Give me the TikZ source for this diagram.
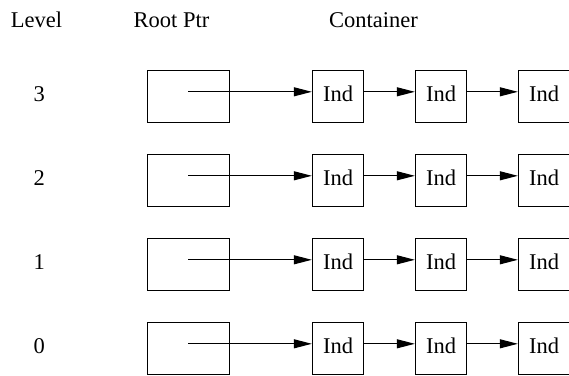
\documentclass[tikz,border=0pt]{standalone}
\usepackage{fontspec}
\setmainfont{Liberation Serif}
\newfontfamily\timesfont{Liberation Serif}
\usepackage{tikz}
\usetikzlibrary{arrows.meta}
\usetikzlibrary{positioning}

\begin{document}
\begin{tikzpicture}[x=1pt,y=1pt]
		\tikzstyle{rootblock} = [rectangle, draw, line width=1pt, minimum width=82.5pt, minimum height=52.4pt]
		\tikzstyle{indblock} = [rectangle, draw, line width=1pt, minimum width=51.4pt, minimum height=52.4pt,
		font=\timesfont\fontsize{22.5}{27}\selectfont, text depth=5pt, inner sep=0pt]
		\tikzstyle{lvl} = [font=\timesfont\fontsize{22.5}{27}\selectfont, text depth=5pt, inner sep=0pt]
		\tikzstyle{head} = [font=\timesfont\fontsize{22.5}{27}\selectfont, anchor=base, inner sep=0pt]
		\tikzstyle{line} = [draw, line width=1pt, -{Triangle[length=18pt, width=9pt]}]

		\useasboundingbox (0,0) rectangle (569,-375);
		\clip (0,0) rectangle (569,-375);

		% headings
		\node [head] (hlevel) at (36.5,-27.7) {Level};
		\node [head] (hroot) at (171.5,-27.7) {Root Ptr};
		\node [head] (hcont) at (373.5,-27.7) {Container};

		% Level 3
		\node [rootblock] (root3) at (188.25,-96.5) {};
		\node [lvl] (l3) at (39.3,-96.5) {3};
		\node [indblock, right=81.8pt of root3] (i31) {Ind};
		\node [indblock, right=50.6pt of i31] (i32) {Ind};
		\node [indblock, right=50.6pt of i32] (i33) {Ind};

		% Level 2
		\node [rootblock, below=30.6pt of root3] (root2) {};
		\node [lvl] (l2) at (l3 |- root2) {2};
		\node [indblock, right=81.8pt of root2] (i21) {Ind};
		\node [indblock, right=50.6pt of i21] (i22) {Ind};
		\node [indblock, right=50.6pt of i22] (i23) {Ind};

		% Level 1
		\node [rootblock, below=30.6pt of root2] (root1) {};
		\node [lvl] (l1) at (l3 |- root1) {1};
		\node [indblock, right=81.8pt of root1] (i11) {Ind};
		\node [indblock, right=50.6pt of i11] (i12) {Ind};
		\node [indblock, right=50.6pt of i12] (i13) {Ind};

		% Level 0
		\node [rootblock, below=30.6pt of root1] (root0) {};
		\node [lvl] (l0) at (l3 |- root0) {0};
		\node [indblock, right=81.8pt of root0] (i01) {Ind};
		\node [indblock, right=50.6pt of i01] (i02) {Ind};
		\node [indblock, right=50.6pt of i02] (i03) {Ind};

		% pointers
		\coordinate (p3) at ([yshift=4.7pt]root3.center);
		\coordinate (p2) at ([yshift=4.7pt]root2.center);
		\coordinate (p1) at ([yshift=4.7pt]root1.center);
		\coordinate (p0) at ([yshift=4.7pt]root0.center);

		% arrows
		\draw [line] (p3) -- ([yshift=4.7pt]i31.west);
		\draw [line] ([yshift=4.7pt]i31.east) -- ([yshift=4.7pt]i32.west);
		\draw [line] ([yshift=4.7pt]i32.east) -- ([yshift=4.7pt]i33.west);
		%
		\draw [line] (p2) -- ([yshift=4.7pt]i21.west);
		\draw [line] ([yshift=4.7pt]i21.east) -- ([yshift=4.7pt]i22.west);
		\draw [line] ([yshift=4.7pt]i22.east) -- ([yshift=4.7pt]i23.west);
		%
		\draw [line] (p1) -- ([yshift=4.7pt]i11.west);
		\draw [line] ([yshift=4.7pt]i11.east) -- ([yshift=4.7pt]i12.west);
		\draw [line] ([yshift=4.7pt]i12.east) -- ([yshift=4.7pt]i13.west);
		%
		\draw [line] (p0) -- ([yshift=4.7pt]i01.west);
		\draw [line] ([yshift=4.7pt]i01.east) -- ([yshift=4.7pt]i02.west);
		\draw [line] ([yshift=4.7pt]i02.east) -- ([yshift=4.7pt]i03.west);

	\end{tikzpicture}
\end{document}
